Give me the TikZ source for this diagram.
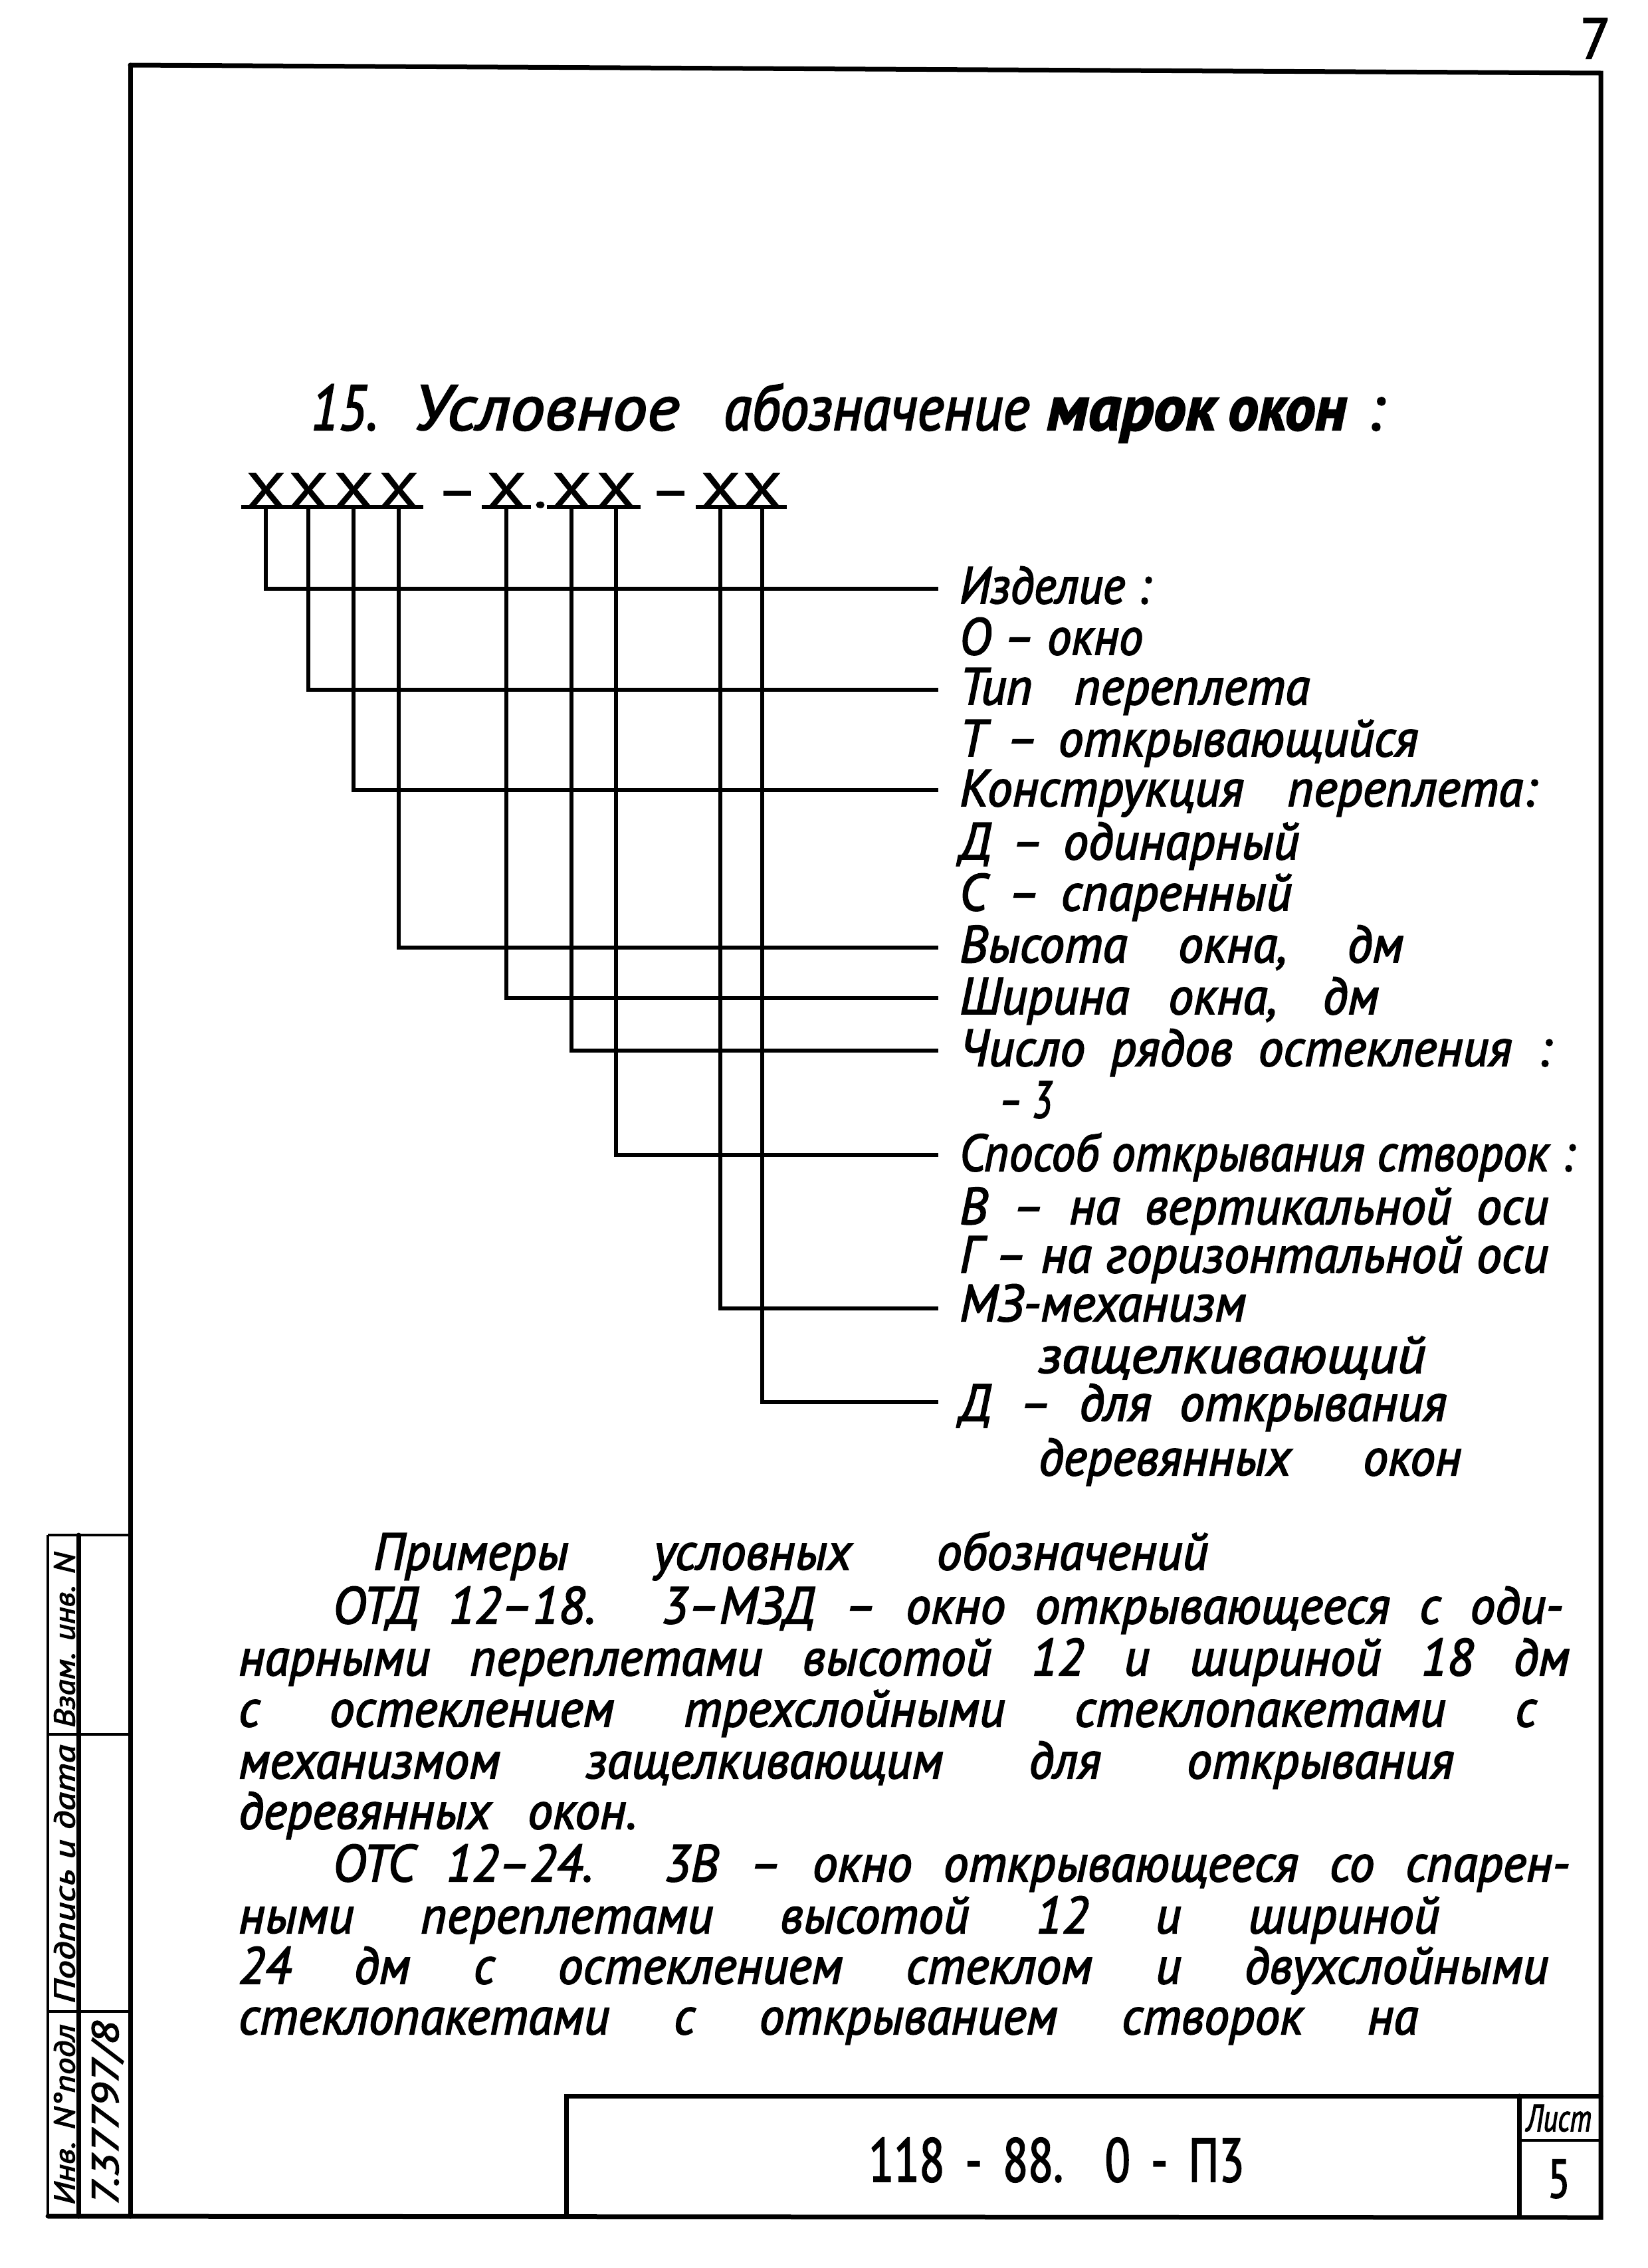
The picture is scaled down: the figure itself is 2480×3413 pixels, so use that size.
\documentclass[tikz,border=0pt]{standalone}
\usepackage{fontspec}
\usepackage{graphicx}
\setmainfont{PT Sans}
\newfontfamily\hand{PT Sans}[FakeStretch=0.97,FakeBold=2.5]
\newfontfamily\upr{PT Sans}[FakeStretch=0.75,FakeBold=2]
\newfontfamily\xf{PT Sans}[FakeStretch=1.3,FakeBold=2.5]
\newcommand\fsz[1]{\fontsize{#1}{#1}\selectfont}
\newcommand\fitw[2]{\resizebox{#1pt}{\height}{#2}}
\newlength\fitlen
\newcommand\fitline[2]{\settowidth\fitlen{#2}\ifdim\fitlen>#1pt\relax\resizebox{#1pt}{\height}{#2}\else\makebox[#1pt][s]{#2}\fi}
\tikzset{
  frameline/.style={line width=7pt, line cap=round},
  thinline/.style={line width=4pt},
  lead/.style={line width=6pt, line join=miter},
  lbl/.style={anchor=base west, inner sep=0pt, font=\hand\itshape\fsz{78}},
  exl/.style={anchor=base west, inner sep=0pt, font=\hand\itshape\fsz{78}},
  ttl/.style={anchor=base west, inner sep=0pt, font=\hand\itshape\fsz{96}},
  xsym/.style={anchor=base, inner sep=0pt, font=\xf\fsz{72}},
  stamptxt/.style={rotate=90, inner sep=0pt, font=\hand\itshape\fsz{44}},
}
\begin{document}
\begin{tikzpicture}[x=1pt,y=-1pt]
\useasboundingbox (0,0) rectangle (2480,3413);
\fill[white] (0,0) rectangle (2480,3413);

% page number
\node[anchor=base, inner sep=0pt, font=\hand\fsz{86}] (pg) at (2401,88) {7};

% frame
\draw[frameline] (196,98) -- (2409,110) -- (2409,3337) -- (72,3335);
\draw[frameline] (196,98) -- (196,3335);

% side stamp
\draw[thinline] (72,2310) -- (196,2310);
\draw[thinline] (72,2610) -- (196,2610);
\draw[thinline] (72,3027) -- (196,3027);
\draw[thinline] (72,2310) -- (72,3335);
\draw[frameline] (118,2310) -- (118,3335);
\node[stamptxt] (s1) at (97,2468) {\fitw{263}{Взам. инв. N}};
\node[stamptxt] (s2) at (97,2820) {\fitw{389}{Подпись и дата}};
\node[stamptxt] (s3) at (97,3182) {\fitw{271}{Инв. N°подл}};
\node[stamptxt, font=\hand\itshape\fsz{56}] (s4) at (162,3180) {\fitw{277}{7.37797/8}};

% title block
\draw[frameline] (852,3335) -- (852,3154) -- (2409,3154);
\draw[frameline] (2286,3154) -- (2286,3335);
\draw[thinline] (2286,3221) -- (2409,3221);
\node[anchor=base, inner sep=0pt, font=\upr\fsz{93}] (doc) at (1590,3283) {\fitline{565}{118 - 88. 0 - П3}};
\node[anchor=base, inner sep=0pt, font=\hand\itshape\fsz{57}] (list) at (2346,3207) {\fitw{98}{Лист}};
\node[anchor=base, inner sep=0pt, font=\upr\fsz{82}] (num) at (2346,3307) {5};

% heading
\node[ttl] (t1) at (468,647) {\fitw{100}{15.}};
\node[ttl] (t2) at (622,647) {\fitw{400}{Условное}};
\node[ttl] (t3) at (1089,647) {\fitw{460}{абозначение}};
\node[ttl, font=\hand\itshape\bfseries\fsz{96}] (t4) at (1575,647) {\fitw{255}{марок}};
\node[ttl, font=\hand\itshape\bfseries\fsz{96}] (t5) at (1848,647) {\fitw{178}{окон}};
\node[ttl] (t6) at (2057,647) {:};

% code symbols
\node[xsym] (x1) at (400,763) {X};
\node[xsym] (x2) at (464,763) {X};
\node[xsym] (x3) at (532,763) {X};
\node[xsym] (x4) at (600,763) {X};
\node[xsym] (d1) at (688,763) {–};
\node[xsym] (x5) at (762,763) {X};
\node[xsym] (dot) at (813,763) {.};
\node[xsym] (x6) at (860,763) {X};
\node[xsym] (x7) at (927,763) {X};
\node[xsym] (d2) at (1009,763) {–};
\node[xsym] (x8) at (1084,763) {X};
\node[xsym] (x9) at (1147,763) {X};
\foreach \i in {1,...,9} {
  \draw[lead] ([xshift=-8pt]x\i.south west) -- ([xshift=8pt]x\i.south east);
}

% labels
\node[lbl] (lab1) at (1444,908) {\fitline{287}{Изделие :}};
\node[lbl] (lab2) at (1444,985) {\fitline{276}{О – окно}};
\node[lbl] (lab3) at (1444,1060) {\fitline{527}{Тип переплета}};
\node[lbl] (lab4) at (1444,1138) {\fitline{690}{Т – открывающийся}};
\node[lbl] (lab5) at (1444,1213) {\fitline{868}{Конструкция переплета:}};
\node[lbl] (lab6) at (1444,1293) {\fitline{511}{Д – одинарный}};
\node[lbl] (lab7) at (1444,1370) {\fitline{500}{С – спаренный}};
\node[lbl] (lab8) at (1444,1448) {\fitline{668}{Высота окна, дм}};
\node[lbl] (lab9) at (1444,1526) {\fitline{631}{Ширина окна, дм}};
\node[lbl] (lab10) at (1444,1604) {\fitline{890}{Число рядов остекления :}};
\node[lbl] (lab11) at (1503,1682) {\fitline{80}{– 3}};
\node[lbl] (lab12) at (1444,1762) {\fitline{925}{Способ открывания створок :}};
\node[lbl] (lab13) at (1444,1842) {\fitline{886}{В – на вертикальной оси}};
\node[lbl] (lab14) at (1444,1915) {\fitline{886}{Г – на горизонтальной оси}};
\node[lbl] (lab15) at (1444,1988) {\fitline{439}{МЗ-механизм}};
\node[lbl] (lab16) at (1563,2066) {\fitw{582}{защелкивающий}};
\node[lbl] (lab17) at (1444,2138) {\fitline{733}{Д – для открывания}};
\node[lbl] (lab18) at (1563,2220) {\fitline{636}{деревянных окон}};

% leader ends
\coordinate (e1) at (1412,886);
\coordinate (e2) at (1412,1038);
\coordinate (e3) at (1412,1189);
\coordinate (e4) at (1412,1426);
\coordinate (e5) at (1412,1502);
\coordinate (e6) at (1412,1581);
\coordinate (e7) at (1412,1738);
\coordinate (e8) at (1412,1969);
\coordinate (e9) at (1412,2110);
\foreach \i in {1,...,9} {
  \draw[lead] (x\i.south) |- (e\i);
}

% examples
\node[exl] (exh) at (562,2362) {\fitline{1256}{Примеры условных обозначений}};
\node[exl] (ex1) at (501,2443) {\fitline{1851}{ОТД 12–18. 3–МЗД – окно открывающееся с оди-}};
\node[exl] (ex2) at (359,2521) {\fitline{2003}{нарными переплетами высотой 12 и шириной 18 дм}};
\node[exl] (ex3) at (359,2598) {\fitline{1953}{с остеклением трехслойными стеклопакетами с}};
\node[exl] (ex4) at (359,2676) {\fitline{1829}{механизмом защелкивающим для открывания}};
\node[exl] (ex5) at (359,2752) {\fitline{599}{деревянных окон.}};
\node[exl] (ex6) at (501,2831) {\fitline{1861}{ОТС 12–24. 3В – окно открывающееся со спарен-}};
\node[exl] (ex7) at (359,2909) {\fitline{1807}{ными переплетами высотой 12 и шириной}};
\node[exl] (ex8) at (359,2985) {\fitline{1971}{24 дм с остеклением стеклом и двухслойными}};
\node[exl] (ex9) at (359,3061) {\fitline{1775}{стеклопакетами с открыванием створок на}};
\end{tikzpicture}
\end{document}
